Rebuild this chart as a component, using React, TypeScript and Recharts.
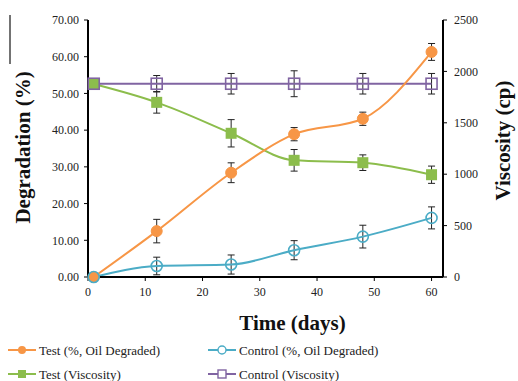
import React from 'react';
import { ComposedChart, Line, XAxis, YAxis, ErrorBar, Legend, Label } from 'recharts';

const days = [1, 12, 25, 36, 48, 60];
const testDeg = [0, 12.5, 28.4, 38.9, 43.1, 61.3];
const testDegErr = [0, 3.2, 2.7, 1.8, 1.8, 2.3];
const controlDeg = [0, 3.0, 3.4, 7.3, 11.0, 16.1];
const controlDegErr = [0, 2.4, 2.6, 2.6, 3.1, 3.0];
const testVisc = [1877, 1699, 1398, 1135, 1112, 995];
const testViscErr = [0, 105, 133, 105, 76, 84];
const controlVisc = [1880, 1880, 1880, 1880, 1880, 1880];
const controlViscErr = [0, 80, 100, 126, 100, 100];

const xTicks = [0, 10, 20, 30, 40, 50, 60];
const leftTicks = [0, 10, 20, 30, 40, 50, 60, 70];
const rightTicks = [0, 500, 1000, 1500, 2000, 2500];

const seriesNames = ['Test (%, Oil Degraded)', 'Control  (%, Oil Degraded)', 'Test  (Viscosity)', 'Control (Viscosity)'];

const ORANGE = '#f79646';
const CYAN = '#4bacc6';
const GREEN = '#8cbd4c';
const PURPLE = '#8064a2';
const FONT = '"Liberation Serif", "Times New Roman", serif';

const data = days.map((d, i) => ({
  day: d,
  td: testDeg[i],
  tdErr: testDegErr[i],
  cd: controlDeg[i],
  cdErr: controlDegErr[i],
  tv: testVisc[i],
  tvErr: testViscErr[i],
  cv: controlVisc[i],
  cvErr: controlViscErr[i],
}));

const tickStyle = { fill: '#222', fontSize: 12, fontFamily: FONT };

const filledCircle = (p: any) => <circle key={p.index} cx={p.cx} cy={p.cy} r={5.5} fill={ORANGE} stroke={ORANGE} />;
const openCircle = (p: any) => <circle key={p.index} cx={p.cx} cy={p.cy} r={5.5} fill="none" stroke={CYAN} strokeWidth={1.6} />;
const filledSquare = (p: any) => <rect key={p.index} x={p.cx - 5.5} y={p.cy - 5.5} width={11} height={11} fill={GREEN} />;
const openSquare = (p: any) => <rect key={p.index} x={p.cx - 5.5} y={p.cy - 5.5} width={11} height={11} fill="none" stroke={PURPLE} strokeWidth={1.6} />;

const legendItems = [
  { name: seriesNames[0], color: ORANGE, x: 8, y: 10, mark: 'fc' },
  { name: seriesNames[1], color: CYAN, x: 208, y: 10, mark: 'oc' },
  { name: seriesNames[2], color: GREEN, x: 8, y: 34, mark: 'fs' },
  { name: seriesNames[3], color: PURPLE, x: 208, y: 34, mark: 'os' },
];

const renderLegend = () => (
  <svg width={518} height={44}>
    {legendItems.map((it) => (
      <g key={it.name}>
        <line x1={it.x} x2={it.x + 28} y1={it.y} y2={it.y} stroke={it.color} strokeWidth={2} />
        {it.mark === 'fc' && <circle cx={it.x + 14} cy={it.y} r={4} fill={it.color} />}
        {it.mark === 'oc' && <circle cx={it.x + 14} cy={it.y} r={4} fill="#fff" stroke={it.color} strokeWidth={1.4} />}
        {it.mark === 'fs' && <rect x={it.x + 10} y={it.y - 4} width={8} height={8} fill={it.color} />}
        {it.mark === 'os' && <rect x={it.x + 10} y={it.y - 4} width={8} height={8} fill="#fff" stroke={it.color} strokeWidth={1.4} />}
        <text x={it.x + 31} y={it.y + 4.5} fontSize={13} fontFamily={FONT} fill="#222">{it.name}</text>
      </g>
    ))}
  </svg>
);

const App = () => (
  <div style={{ position: 'absolute', left: 0, top: 0, width: 518, height: 381, background: '#fff' }}>
    <ComposedChart width={518} height={381} data={data} margin={{ top: 20, right: 15, bottom: 84, left: 8 }}>
      <XAxis
        dataKey="day"
        type="number"
        domain={[0, 62]}
        ticks={xTicks}
        tick={tickStyle}
        tickSize={4}
        tickMargin={6}
        height={20}
        axisLine={{ stroke: '#000', strokeWidth: 2 }}
        tickLine={{ stroke: '#000' }}
      >
        <Label
          content={(p: any) => (
            <text x={p.viewBox.x + p.viewBox.width / 2 + 27} y={p.viewBox.y + 53} textAnchor="middle" fontSize={21} fontWeight="bold" fontFamily={FONT} fill="#111">
              Time (days)
            </text>
          )}
        />
      </XAxis>
      <YAxis
        yAxisId="left"
        type="number"
        domain={[0, 70]}
        ticks={leftTicks}
        tickFormatter={(v: number) => v.toFixed(2)}
        tick={tickStyle}
        tickSize={4}
        tickMargin={5}
        width={80}
        axisLine={{ stroke: '#000', strokeWidth: 2 }}
        tickLine={{ stroke: '#000' }}
      >
        <Label
          content={(p: any) => {
            const cx = p.viewBox.x + 15;
            const cy = p.viewBox.y + p.viewBox.height / 2 - 1;
            return (
              <g>
                <line x1={10} x2={10} y1={15} y2={64} stroke="#444" strokeWidth={1.5} />
                <text x={cx} y={cy} transform={`rotate(-90 ${cx} ${cy})`} textAnchor="middle" dominantBaseline="central" fontSize={21} fontWeight="bold" fontFamily={FONT} fill="#111">
                  Degradation (%)
                </text>
              </g>
            );
          }}
        />
      </YAxis>
      <YAxis
        yAxisId="right"
        orientation="right"
        type="number"
        domain={[0, 2500]}
        ticks={rightTicks}
        tick={tickStyle}
        tickSize={4}
        tickMargin={7}
        width={60}
        axisLine={{ stroke: '#000', strokeWidth: 2 }}
        tickLine={{ stroke: '#000' }}
      >
        <Label
          content={(p: any) => {
            const cx = p.viewBox.x + 60;
            const cy = p.viewBox.y + p.viewBox.height / 2 - 8;
            return (
              <text x={cx} y={cy} transform={`rotate(-90 ${cx} ${cy})`} textAnchor="middle" dominantBaseline="central" fontSize={21} fontWeight="bold" fontFamily={FONT} fill="#111">
                Viscosity (cp)
              </text>
            );
          }}
        />
      </YAxis>
      <Legend
        layout="horizontal"
        verticalAlign="middle"
        align="center"
        content={renderLegend}
        wrapperStyle={{ top: 340, left: 0, width: 518, height: 44 }}
      />
      <Line yAxisId="right" type="monotone" dataKey="tv" name={seriesNames[2]} stroke={GREEN} strokeWidth={2} dot={filledSquare} isAnimationActive={false}>
        <ErrorBar dataKey="tvErr" direction="y" width={3.5} stroke="#222" strokeWidth={1} isAnimationActive={false} />
      </Line>
      <Line yAxisId="right" type="linear" dataKey="cv" name={seriesNames[3]} stroke={PURPLE} strokeWidth={2} dot={openSquare} isAnimationActive={false}>
        <ErrorBar dataKey="cvErr" direction="y" width={3.5} stroke="#222" strokeWidth={1} isAnimationActive={false} />
      </Line>
      <Line yAxisId="left" type="monotone" dataKey="td" name={seriesNames[0]} stroke={ORANGE} strokeWidth={2} dot={filledCircle} isAnimationActive={false}>
        <ErrorBar dataKey="tdErr" direction="y" width={3.5} stroke="#222" strokeWidth={1} isAnimationActive={false} />
      </Line>
      <Line yAxisId="left" type="monotone" dataKey="cd" name={seriesNames[1]} stroke={CYAN} strokeWidth={2} dot={openCircle} isAnimationActive={false}>
        <ErrorBar dataKey="cdErr" direction="y" width={3.5} stroke="#222" strokeWidth={1} isAnimationActive={false} />
      </Line>
    </ComposedChart>
  </div>
);

export default App;
